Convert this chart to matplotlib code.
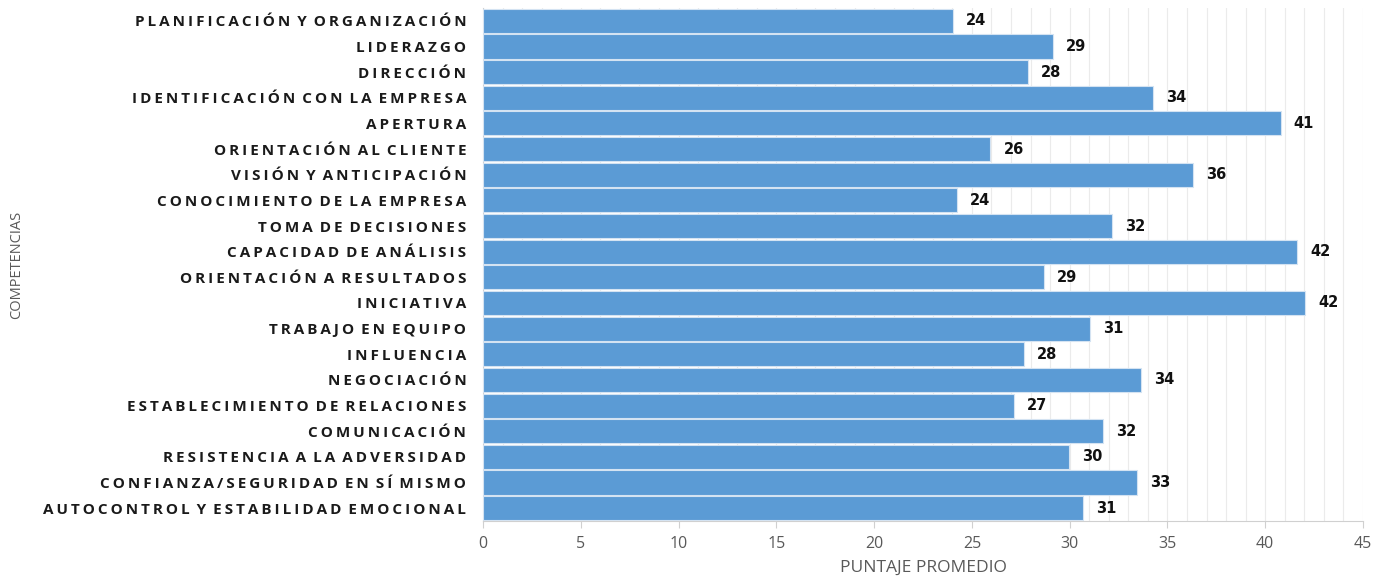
import matplotlib
matplotlib.use("Agg")
import matplotlib.pyplot as plt
from matplotlib.ticker import MultipleLocator

competencias = [
    "PLANIFICACIÓN Y ORGANIZACIÓN",
    "LIDERAZGO",
    "DIRECCIÓN",
    "IDENTIFICACIÓN CON LA EMPRESA",
    "APERTURA",
    "ORIENTACIÓN AL CLIENTE",
    "VISIÓN Y ANTICIPACIÓN",
    "CONOCIMIENTO DE LA EMPRESA",
    "TOMA DE DECISIONES",
    "CAPACIDAD DE ANÁLISIS",
    "ORIENTACIÓN A RESULTADOS",
    "INICIATIVA",
    "TRABAJO EN EQUIPO",
    "INFLUENCIA",
    "NEGOCIACIÓN",
    "ESTABLECIMIENTO DE RELACIONES",
    "COMUNICACIÓN",
    "RESISTENCIA A LA ADVERSIDAD",
    "CONFIANZA/SEGURIDAD EN SÍ MISMO",
    "AUTOCONTROL Y ESTABILIDAD EMOCIONAL",
]
puntaje = [24.04, 29.16, 27.86, 34.27, 40.80, 25.95, 36.31, 24.22, 32.19, 41.65,
           28.70, 42.04, 31.02, 27.64, 33.66, 27.13, 31.70, 29.95, 33.45, 30.67]

x_ticks = [0, 5, 10, 15, 20, 25, 30, 35, 40, 45]


def tracked(text, gap="\u2009"):
    """Widen letter spacing by putting a thin space between letters."""
    words = text.split(" ")
    return (gap + " ").join(gap.join(w) for w in words)


fig = plt.figure(figsize=(13.9, 5.79), dpi=100)
ax = fig.add_axes([483 / 1390, 1 - 521 / 579, 880 / 1390, 513 / 579])

ypos = list(range(len(competencias)))
ax.barh(ypos, puntaje, height=0.94, color="#5B9BD5",
        edgecolor="#D4E3F2", linewidth=0.8, zorder=3)

for yi, v in zip(ypos, puntaje):
    ax.annotate(f"{v:.0f}", xy=(v, yi), xytext=(13, 0), textcoords="offset pixels",
                ha="left", va="center", fontsize=10.5, fontweight="bold",
                family="DejaVu Sans", color="#111111")

ax.set_ylim(len(competencias) - 0.5, -0.5)
ax.set_yticks(ypos)
ax.set_yticklabels([tracked(c) for c in competencias], fontsize=11, fontweight="bold",
                   family=["Open Sans", "DejaVu Sans"], color="#1a1a1a")
ax.tick_params(axis="y", length=0, pad=12)

ax.set_xlim(0, 45)
ax.set_xticks(x_ticks)
ax.xaxis.set_minor_locator(MultipleLocator(1))
ax.tick_params(axis="x", which="major", length=5, width=0.8, color="#D0D0D0",
               labelsize=11.5, labelcolor="#595959", pad=6)
ax.tick_params(axis="x", which="minor", length=0)
for lab in ax.get_xticklabels():
    lab.set_family("Open Sans")

ax.grid(axis="x", which="both", color="#EBEBEB", linewidth=0.8, zorder=0)
ax.set_axisbelow(True)

for side in ("top", "right"):
    ax.spines[side].set_visible(False)
ax.spines["bottom"].set_color("#D0D0D0")
ax.spines["left"].set_color("#D0D0D0")

fig.text(923 / 1390, 1 - 568 / 579, "PUNTAJE PROMEDIO", ha="center", va="center",
         fontsize=12.5, color="#595959", family="Open Sans")
fig.text(17 / 1390, 1 - 265 / 579, "COMPETENCIAS", ha="center", va="center",
         rotation=90, fontsize=10.5, color="#595959", family="Open Sans")

fig.savefig("out.png", dpi=100)
